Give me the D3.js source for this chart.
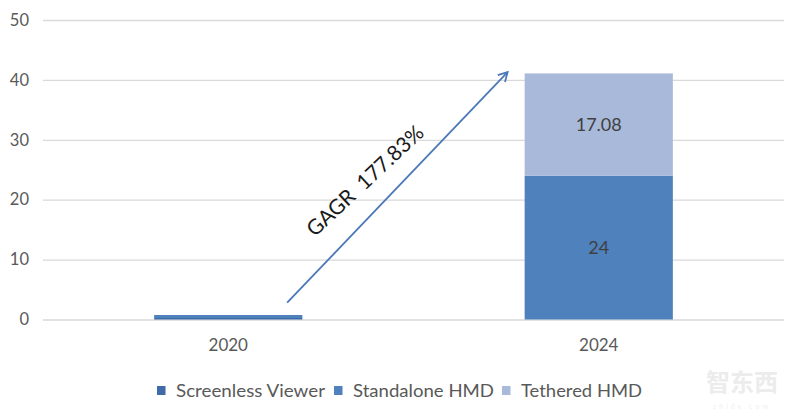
<!DOCTYPE html>
<html><head><meta charset="utf-8">
<script src="https://cdn.jsdelivr.net/npm/d3@7"></script>
<style>body{margin:0;background:#fff}svg{display:block}</style>
</head><body>
<svg id="c" width="800" height="419"></svg>
<script>
const categories = ["2020", "2024"];
const seriesNames = ["Screenless Viewer", "Standalone HMD", "Tethered HMD"];
const screenless = [0.25, 0];
const standalone = [0.5, 24];
const tethered = [0, 17.08];
const yTicks = [0, 10, 20, 30, 40, 50];
const annotation = "GAGR  177.83%";
const colors = ["#3f6ba8", "#4f81bd", "#a9b9d9"];

const svg = d3.select("#c");
const mLeft = 43, mRight = 784, mTop = 20, mBottom = 319.5;
const x = d3.scaleBand().domain(categories).range([mLeft, mRight]).padding(0);
const y = d3.scaleLinear().domain([0, 50]).range([mBottom, mTop]);
const step = x.step(), bw = step * 0.4;
const font = "Lato, 'Open Sans', sans-serif";

// gridlines
svg.append("g")
  .attr("transform", `translate(${mLeft},0)`)
  .call(d3.axisLeft(y).tickValues(yTicks).tickSize(-(mRight - mLeft)).tickFormat(d => d))
  .call(g => g.select(".domain").remove())
  .call(g => g.selectAll(".tick line").attr("stroke", "#d9d9d9").attr("stroke-width", 1.3))
  .call(g => g.selectAll(".tick text").attr("x", -14).attr("fill", "#595959")
        .style("font-family", font).style("font-size", "16.5px"));

// stacked bars
const rows = categories.map((c, i) => ({cat: c, "Screenless Viewer": screenless[i], "Standalone HMD": standalone[i], "Tethered HMD": tethered[i]}));
const stack = d3.stack().keys(seriesNames)(rows);
stack.forEach((s, si) => {
  svg.append("g").selectAll("rect").data(s.filter(d => d[1] - d[0] > 0)).join("rect")
    .attr("x", d => x(d.data.cat) + (step - bw) / 2)
    .attr("width", bw)
    .attr("y", d => y(d[1]))
    .attr("height", d => y(d[0]) - y(d[1]))
    .attr("fill", colors[si]);
});

// value labels for 2024
stack.forEach((s, si) => {
  s.filter(d => d.data.cat === "2024" && d[1] - d[0] > 1).forEach(d => {
    svg.append("text").attr("x", x(d.data.cat) + step / 2).attr("y", (y(d[0]) + y(d[1])) / 2 + 6)
      .attr("text-anchor", "middle").attr("fill", "#404040")
      .style("font-family", font).style("font-size", "18px")
      .text(d3.format("~g")(+(d[1] - d[0]).toFixed(2)));
  });
});

// x axis labels
svg.append("g").attr("transform", `translate(0,${mBottom})`)
  .call(d3.axisBottom(x).tickSize(0).tickPadding(19))
  .call(g => g.select(".domain").remove())
  .call(g => g.selectAll(".tick text").attr("fill", "#595959")
        .style("font-family", font).style("font-size", "17px"));

// arrow annotation
const defs = svg.append("defs");
defs.append("marker").attr("id", "ah").attr("viewBox", "0 0 12 12").attr("refX", 10).attr("refY", 6)
  .attr("markerWidth", 12).attr("markerHeight", 12).attr("markerUnits", "userSpaceOnUse").attr("orient", "auto")
  .append("path").attr("d", "M1,1 L10,6 L1,11").attr("fill", "none").attr("stroke", "#4a78b8").attr("stroke-width", 1.8);
const x0 = x("2020") + step * 0.659, y0 = y(2.8);
const x1 = x("2024") + step * 0.254, y1 = y(41.3);
svg.append("line").attr("x1", x0).attr("y1", y0).attr("x2", x1).attr("y2", y1)
  .attr("stroke", "#4a78b8").attr("stroke-width", 1.8).attr("marker-end", "url(#ah)");
svg.append("text").attr("transform", `translate(370,186) rotate(-43)`)
  .attr("text-anchor", "middle").attr("fill", "#1a1a1a").style("white-space", "pre")
  .style("font-family", font).style("font-size", "21px").text(annotation);

// legend
const lx = [157, 334, 502];
const lw = [149, 141, 121];
const lg = svg.append("g");
seriesNames.forEach((n, i) => {
  lg.append("rect").attr("x", lx[i]).attr("y", 386).attr("width", 8.5).attr("height", 9).attr("fill", colors[i]);
  lg.append("text").attr("x", lx[i] + 19).attr("y", 397).attr("fill", "#595959")
    .attr("textLength", lw[i]).attr("lengthAdjust", "spacingAndGlyphs")
    .style("font-family", font).style("font-size", "17.5px").text(n);
});

// watermark
svg.append("text").attr("x", 742).attr("y", 391).attr("text-anchor", "middle").attr("fill", "#ececec")
  .style("font-family", "'Noto Sans CJK SC'").style("font-size", "24px").style("font-weight", "bold").text("智东西");
svg.append("text").attr("x", 742).attr("y", 409).attr("text-anchor", "middle").attr("fill", "#efefef")
  .style("font-family", font).style("font-size", "7px").style("letter-spacing", "3px").text("zhidx.com");
</script>
</body></html>
